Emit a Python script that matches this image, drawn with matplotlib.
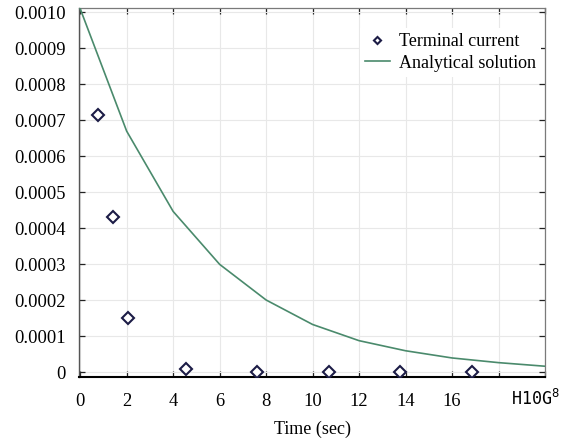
import matplotlib
matplotlib.use("Agg")
import matplotlib.pyplot as plt
import numpy as np

# terminal current samples (sec, A)
t_meas = [0.78, 1.41, 2.06, 4.55, 7.62, 10.7, 13.74, 16.87]
i_meas = [0.000715, 0.000432, 0.000152, 0.00001, 0.0, 0.0, 0.0, 0.0]

# analytical solution read at the tick positions
t_ana = [0, 2, 4, 6, 8, 10, 12, 14, 16, 18, 20]
i_ana = [0.00101, 0.00067, 0.000447, 0.0003, 0.000201, 0.000133,
         0.000088, 0.00006, 0.00004, 0.000027, 0.000017]

x_ticks = [0, 2, 4, 6, 8, 10, 12, 14, 16, 18, 20]
x_labels = ["0", "2", "4", "6", "8", "10", "12", "14", "16", "", ""]
y_ticks = [0, 0.0001, 0.0002, 0.0003, 0.0004, 0.0005,
           0.0006, 0.0007, 0.0008, 0.0009, 0.0010]
y_labels = ["0", "0.0001", "0.0002", "0.0003", "0.0004", "0.0005",
            "0.0006", "0.0007", "0.0008", "0.0009", "0.0010"]

plt.rcParams["font.family"] = ["Liberation Serif", "DejaVu Serif"]
plt.rcParams["mathtext.fontset"] = "dejavusans"

fig = plt.figure(figsize=(5.67, 4.45), dpi=100)
ax = fig.add_axes([0.1402, 0.152, 0.821, 0.831])

ax.plot(t_ana, i_ana, color="#4a8a6c", linewidth=1.2,
        label="Analytical solution", zorder=3)
ax.plot(t_meas, i_meas, linestyle="none", marker="D", markersize=6,
        markerfacecolor="white", markeredgecolor="#1c1c46",
        markeredgewidth=1.5, label="Terminal current", zorder=4)

ax.set_xlim(-0.03, 20)
ax.set_ylim(-0.0000139, 0.0010133)
ax.set_xticks(x_ticks)
ax.set_xticklabels(x_labels)
ax.set_yticks(y_ticks)
ax.set_yticklabels(y_labels)
ax.tick_params(direction="in", length=4, width=0.9, top=True, right=True,
               labelsize=13.3, colors="#222222")
ax.tick_params(axis="x", labelcolor="black", pad=11)
ax.tick_params(axis="y", labelcolor="black", pad=10)
ax.grid(True, color="#e8e8e8", linewidth=0.8)
ax.set_axisbelow(True)

for side in ("top", "right"):
    ax.spines[side].set_color("#7a7a7a")
    ax.spines[side].set_linewidth(0.9)
ax.spines["left"].set_color("#555555")
ax.spines["left"].set_linewidth(1.0)
ax.spines["bottom"].set_color("black")
ax.spines["bottom"].set_linewidth(1.5)

ax.text(19.6, -0.03, "H10G$^{8}$", transform=ax.get_xaxis_transform(),
        ha="center", va="top", fontsize=12, family="DejaVu Sans Mono")
ax.set_xlabel("Time (sec)", fontsize=13, labelpad=8)

handles, labels = ax.get_legend_handles_labels()
leg = ax.legend(handles[::-1], labels[::-1], loc="upper right",
                bbox_to_anchor=(1.011, 0.97), fontsize=13, frameon=True,
                handlelength=1.35, handletextpad=0.5, labelspacing=0.25,
                borderpad=0.3, markerscale=0.6, fancybox=False)
leg.get_frame().set_edgecolor("none")
leg.get_frame().set_facecolor("white")
leg.get_frame().set_alpha(1.0)

fig.savefig("out.png", dpi=100)
